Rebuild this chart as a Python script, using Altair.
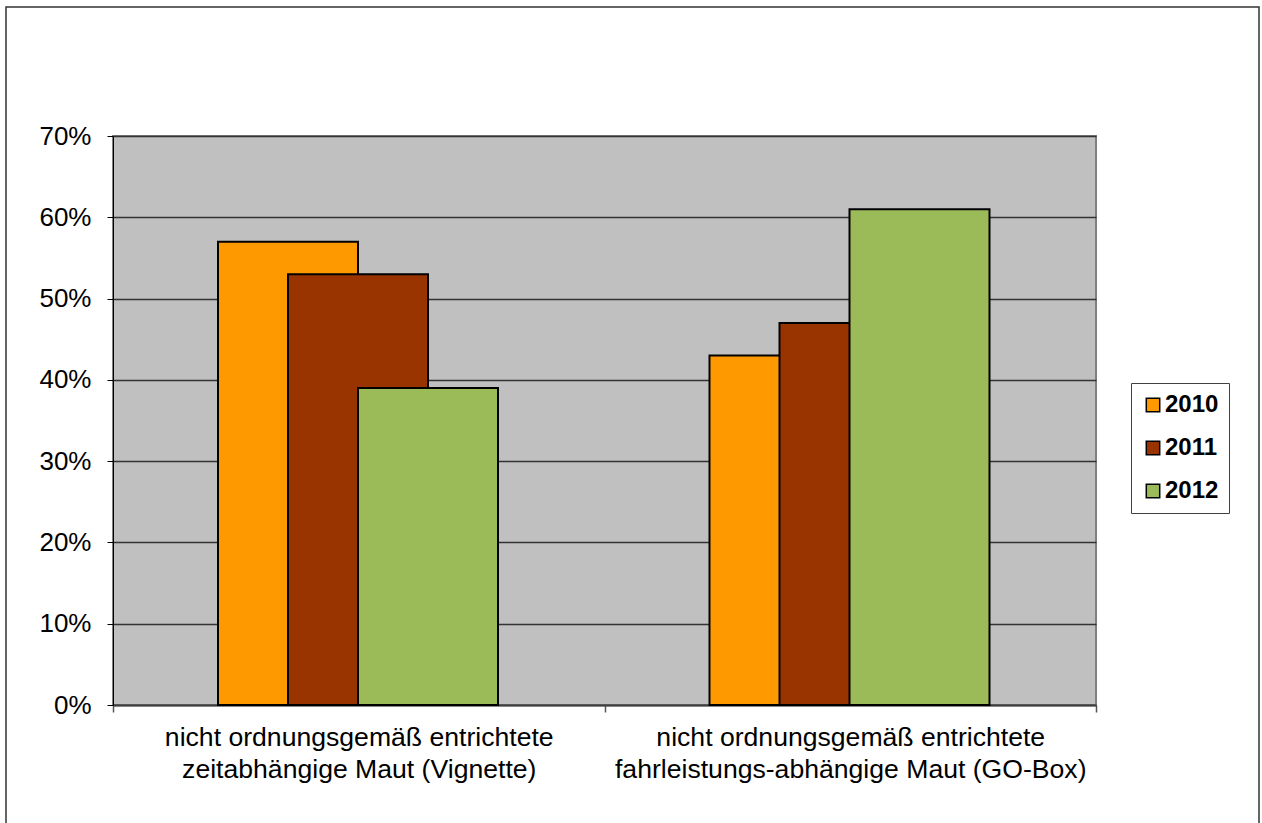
import altair as alt
import pandas as pd

# Kategorien (Zeilenumbruch über "|")
kategorien = [
    "nicht ordnungsgemäß entrichtete|zeitabhängige Maut (Vignette)",
    "nicht ordnungsgemäß entrichtete|fahrleistungs-abhängige Maut (GO-Box)",
]
jahre = ["2010", "2011", "2012"]
farben = ["#FF9900", "#993300", "#9BBB59"]

# Anteile je Jahr (in Prozent) für die beiden Kategorien
werte_2010 = [57, 43]
werte_2011 = [53, 47]
werte_2012 = [39, 61]

reihen = {"2010": werte_2010, "2011": werte_2011, "2012": werte_2012}
rows = []
for jahr in jahre:
    for kat, v in zip(kategorien, reihen[jahr]):
        rows.append({"kat": kat, "jahr": jahr, "anteil": v / 100})
df = pd.DataFrame(rows)

FONT = "Liberation Sans"

bars = alt.Chart(df).mark_bar(
    width=140, stroke="black", strokeWidth=2
).encode(
    x=alt.X(
        "kat:N",
        sort=kategorien,
        title=None,
        scale=alt.Scale(paddingInner=0, paddingOuter=0),
        axis=alt.Axis(
            labelAngle=0,
            labelExpr="datum.value ? split(datum.value, '|') : ''",
            labelFont=FONT,
            labelFontSize=26.6,
            labelColor="black",
            labelLineHeight=32,
            labelPadding=12,
            tickBand="extent",
            tickSize=7,
            tickColor="#555555",
            tickWidth=1.5,
            domainColor="#404040",
            domainWidth=2,
            grid=False,
            labelLimit=600,
        ),
    ),
    xOffset=alt.XOffset(
        "jahr:N", sort=jahre,
        scale=alt.Scale(range=[140, 350], paddingInner=0, paddingOuter=0),
    ),
    y=alt.Y(
        "anteil:Q",
        title=None,
        scale=alt.Scale(domain=[0, 0.7], nice=False),
        axis=alt.Axis(
            format=".0%",
            values=[0, 0.1, 0.2, 0.3, 0.4, 0.5, 0.6, 0.7],
            labelFont=FONT,
            labelFontSize=26,
            labelColor="black",
            labelPadding=16,
            tickSize=6,
            tickColor="black",
            domainColor="black",
            domainWidth=1,
            grid=True,
            gridColor="#333333",
            gridWidth=1.3,
        ),
    ),
    color=alt.Color(
        "jahr:N",
        sort=jahre,
        scale=alt.Scale(domain=jahre, range=farben),
        legend=alt.Legend(
            title=None,
            orient="none",
            legendX=1018,
            legendY=247,
            padding=10,
            strokeColor="#404040",
            symbolType="square",
            symbolSize=180,
            symbolStrokeColor="black",
            symbolStrokeWidth=1.5,
            labelFont=FONT,
            labelFontSize=24,
            labelFontWeight="bold",
            labelColor="black",
            labelOffset=0,
            rowPadding=19,
        ),
    ),
    order=alt.Order("jahr:N"),
)

# Rahmen um die gesamte Grafik
rahmen = alt.Chart(pd.DataFrame({"r": [0]})).mark_rect(
    fill=None, stroke="#333333", strokeWidth=1.5, clip=False
).encode(
    x=alt.value(-107), x2=alt.value(1146),
    y=alt.value(-129), y2=alt.value(700),
)

chart = alt.layer(bars, rahmen).properties(
    width=983,
    height=569,
    padding={"left": 113, "top": 136, "right": 166, "bottom": 118},
    autosize=alt.AutoSizeParams(type="none"),
    background="white",
).configure_view(
    fill="#C0C0C0", stroke="#808080", strokeWidth=2
)

chart.save("out.html", embed_options={"renderer": "svg", "actions": False})
